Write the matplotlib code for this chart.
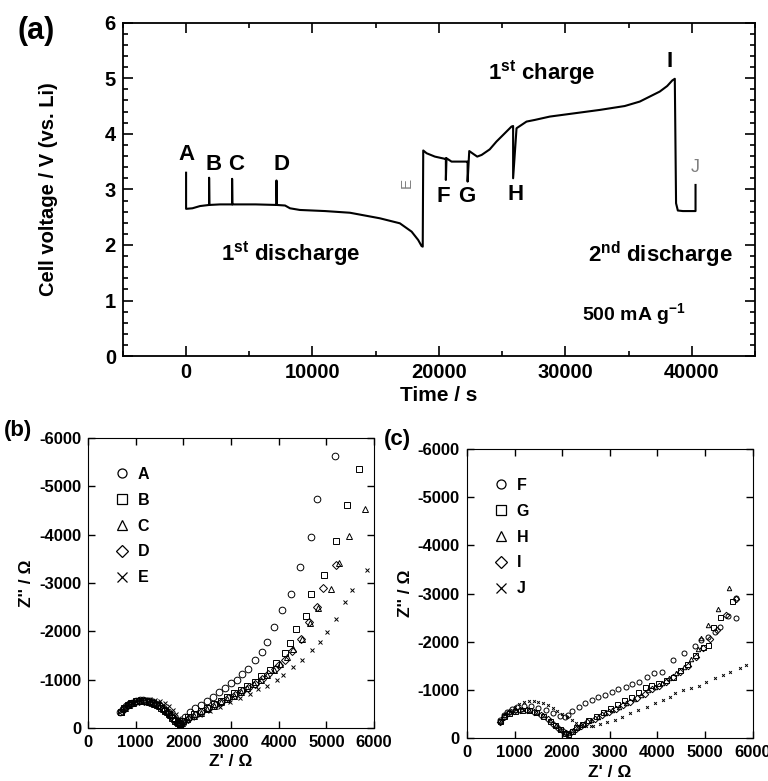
import numpy as np
import matplotlib.pyplot as plt
from matplotlib.ticker import MultipleLocator
from matplotlib.lines import Line2D

plt.rcParams['font.family'] = ['Liberation Sans', 'DejaVu Sans']
plt.rcParams['font.weight'] = 'bold'
plt.rcParams['axes.labelweight'] = 'bold'
plt.rcParams['mathtext.fontset'] = 'custom'
plt.rcParams['mathtext.rm'] = 'Liberation Sans:bold'
plt.rcParams['axes.unicode_minus'] = False

# (a) voltage profile, time in s, voltage in V
time_s = [0, 0, 500, 1100, 1820, 1820, 1840, 2690, 3640, 3640, 3660, 5500, 7150, 7150, 7170,
          7830, 8220, 9000, 11000, 12960, 15330, 16910, 17840, 18360, 18630, 18720, 18760,
          19030, 19680, 20470, 20550, 20550, 20600, 21000, 22190, 22270, 22270, 22400, 22710,
          23030, 23380, 24020, 24550, 25080, 25740, 25870, 25870, 26140, 26930, 27590, 28770,
          30750, 32730, 34700, 35890, 36680, 37470, 38060, 38460, 38660, 38760, 38900, 39300,
          40300, 40300]
voltage = [3.3, 2.65, 2.66, 2.7, 2.72, 3.21, 2.72, 2.73, 2.73, 3.19, 2.73, 2.73, 2.72, 3.16, 2.72,
           2.71, 2.66, 2.63, 2.61, 2.58, 2.48, 2.39, 2.24, 2.09, 1.98, 1.97, 3.7,
           3.65, 3.59, 3.55, 3.56, 3.17, 3.56, 3.5, 3.5, 3.5, 3.14, 3.69, 3.64,
           3.59, 3.62, 3.72, 3.86, 3.98, 4.13, 4.14, 3.2, 4.1, 4.22, 4.25, 4.31,
           4.37, 4.43, 4.5, 4.58, 4.67, 4.76, 4.86, 4.96, 4.99, 2.75, 2.62, 2.61,
           2.61, 3.08]
point_labels = ['A', 'B', 'C', 'D', 'F', 'G', 'H', 'I']
point_t = [0, 2200, 3950, 7550, 20340, 22240, 26090, 38260]
point_v = [3.62, 3.45, 3.45, 3.45, 2.87, 2.87, 2.9, 5.3]

# (b) impedance, Z' and -Z'' in ohm
A_re = [678, 740, 803, 866, 929, 1005, 1084, 1150, 1223, 1295, 1364, 1435, 1504, 1565, 1622, 1680,
        1734, 1785, 1831, 1880, 1923, 1975, 2028, 2133, 2251, 2377, 2496, 2622, 2748, 2880, 3006,
        3132, 3231, 3363, 3503, 3644, 3755, 3908, 4063, 4259, 4454, 4678, 4798, 5181]
A_im = [337, 400, 455, 495, 523, 555, 579, 575, 565, 548, 523, 492, 455, 415, 372, 322,
        269, 215, 165, 125, 97, 150, 234, 337, 408, 476, 559, 648, 738, 821, 925,
        993, 1117, 1227, 1401, 1573, 1773, 2096, 2435, 2779, 3325, 3946, 4732, 5634]
B_re = [690, 760, 830, 910, 1000, 1090, 1180, 1270, 1360, 1450, 1540, 1620, 1700, 1770, 1830, 1880,
        1930, 2000, 2098, 2224, 2364, 2503, 2643, 2784, 2922, 3063, 3203, 3342, 3497, 3636, 3812,
        3950, 4126, 4244, 4370, 4573, 4678, 4951, 5203, 5427, 5679]
B_im = [330, 410, 470, 515, 548, 565, 562, 545, 515, 470, 415, 350, 280, 200, 140, 100,
        80, 150, 221, 283, 352, 420, 490, 559, 635, 718, 786, 869, 958, 1076, 1200,
        1351, 1545, 1759, 2042, 2324, 2779, 3166, 3876, 4608, 5359]
C_re = [700, 770, 850, 940, 1030, 1120, 1210, 1300, 1390, 1480, 1570, 1650, 1730, 1800, 1860, 1920,
        1980, 2080, 2220, 2360, 2500, 2640, 2780, 2920, 3060, 3200, 3340, 3480, 3620, 3760, 3900,
        4030, 4168, 4307, 4489, 4657, 4825, 5091, 5259, 5481, 5811]
C_im = [340, 420, 480, 525, 555, 565, 558, 538, 505, 460, 400, 335, 260, 185, 125, 90,
        110, 180, 250, 320, 390, 460, 530, 600, 670, 740, 820, 900, 990, 1090, 1200,
        1330, 1475, 1628, 1835, 2179, 2477, 2882, 3420, 3973, 4525]
D_re = [710, 790, 880, 980, 1080, 1180, 1280, 1380, 1480, 1580, 1670, 1750, 1820, 1880, 1940, 2000,
        2100, 2240, 2380, 2520, 2660, 2800, 2940, 3080, 3220, 3360, 3500, 3640, 3780, 3920, 4000,
        4133, 4273, 4462, 4643, 4798, 4936, 5203]
D_im = [345, 430, 490, 535, 560, 560, 545, 512, 465, 400, 320, 240, 165, 110, 85, 120,
        190, 265, 335, 405, 475, 545, 615, 685, 755, 835, 915, 1005, 1110, 1230, 1300,
        1407, 1599, 1841, 2187, 2510, 2903, 3373]
E_re = [720, 800, 900, 1000, 1100, 1200, 1300, 1400, 1500, 1608, 1700, 1780, 1850, 1910, 1960, 2010,
        2100, 2175, 2350, 2559, 2769, 2979, 3189, 3398, 3573, 3748, 3958, 4098, 4307, 4482, 4692,
        4867, 5021, 5203, 5391, 5531, 5846]
E_im = [360, 450, 520, 565, 590, 600, 595, 580, 555, 520, 460, 380, 290, 200, 130, 110,
        160, 200, 269, 358, 441, 544, 627, 703, 801, 875, 993, 1097, 1268, 1407, 1614,
        1773, 1980, 2249, 2614, 2855, 3269]

# (c) impedance after charge steps
F_re = [699, 769, 839, 944, 1050, 1200, 1350, 1500, 1650, 1800, 1950, 2050, 2120, 2203, 2343, 2482,
        2622, 2762, 2901, 3042, 3182, 3336, 3476, 3622, 3776, 3930, 4091, 4328, 4559, 4783, 4909,
        5062, 5203, 5322, 5482, 5643, 5658]
F_im = [374, 477, 546, 602, 640, 660, 655, 625, 575, 520, 460, 430, 470, 560, 640, 720,
        789, 845, 893, 962, 1017, 1065, 1121, 1169, 1260, 1343, 1377, 1619, 1758, 1910, 2034,
        2103, 2207, 2298, 2533, 2498, 2900]
G_re = [700, 780, 880, 1000, 1150, 1300, 1450, 1600, 1750, 1850, 1950, 2050, 2120, 2200, 2300, 2420,
        2550, 2700, 2850, 3000, 3150, 3300, 3450, 3600, 3734, 3874, 4013, 4175, 4328, 4468, 4629,
        4783, 4958, 5062, 5167, 5307, 5573]
G_im = [350, 450, 520, 570, 590, 580, 540, 460, 360, 270, 180, 110, 90, 140, 220, 300,
        380, 460, 540, 620, 700, 780, 860, 960, 1052, 1100, 1148, 1204, 1273, 1412, 1530,
        1723, 1896, 1931, 2311, 2518, 2851]
H_re = [710, 800, 900, 1020, 1160, 1300, 1450, 1600, 1750, 1860, 1960, 2060, 2140, 2230, 2340, 2460,
        2600, 2750, 2900, 3050, 3200, 3350, 3500, 3650, 3800, 3950, 4100, 4250, 4400, 4560, 4700,
        4850, 4923, 5062, 5273, 5503]
H_im = [360, 470, 540, 585, 600, 590, 550, 470, 370, 270, 180, 120, 100, 160, 230, 300,
        370, 440, 510, 580, 650, 730, 810, 900, 990, 1070, 1150, 1240, 1350, 1480, 1650,
        1850, 2070, 2346, 2672, 3108]
I_re = [690, 770, 860, 980, 1120, 1260, 1400, 1550, 1700, 1810, 1910, 2010, 2090, 2180, 2280, 2400,
        2530, 2680, 2830, 2980, 3130, 3280, 3430, 3580, 3730, 3880, 4030, 4180, 4330, 4480, 4640,
        4800, 4960, 5100, 5250, 5440, 5650]
I_im = [340, 440, 510, 560, 585, 580, 550, 480, 390, 300, 210, 140, 100, 130, 190, 260,
        330, 400, 470, 540, 610, 680, 750, 830, 920, 1010, 1090, 1170, 1260, 1370, 1500,
        1690, 1860, 2050, 2250, 2560, 2880]
J_re = [720, 800, 900, 1000, 1100, 1200, 1300, 1400, 1500, 1600, 1700, 1800, 1900, 2000, 2100, 2200,
        2300, 2400, 2500, 2600, 2650, 2800, 2950, 3100, 3250, 3420, 3600, 3780, 3950, 4120, 4260,
        4363, 4538, 4700, 4874, 5028, 5203, 5377, 5517, 5727, 5867]
J_im = [380, 490, 580, 650, 700, 740, 760, 765, 750, 720, 680, 620, 560, 500, 440, 380,
        320, 280, 250, 240, 250, 290, 330, 380, 430, 519, 580, 650, 720, 796, 860,
        940, 996, 1030, 1080, 1169, 1239, 1308, 1377, 1447, 1515]

fig = plt.figure(figsize=(7.68, 7.81), dpi=100)

# ---- (a) ----
ax = fig.add_axes([0.160, 0.544, 0.823, 0.427])
ax.plot(time_s, voltage, color='black', lw=1.5)
ax.set_xlim(-5000, 45000)
ax.set_ylim(0, 6)
ax.xaxis.set_major_locator(MultipleLocator(10000))
ax.xaxis.set_minor_locator(MultipleLocator(5000))
ax.yaxis.set_major_locator(MultipleLocator(1))
ax.yaxis.set_minor_locator(MultipleLocator(0.2))
ax.tick_params(which='both', direction='in', top=True, right=True, labelsize=14.5, width=1.2)
ax.tick_params(which='major', length=7, pad=5)
ax.tick_params(which='minor', length=3.5)
for s in ax.spines.values():
    s.set_linewidth(1.3)
ax.set_xlabel('Time / s', fontsize=15)
ax.set_ylabel('Cell voltage / V (vs. Li)', fontsize=14.5)
ax.xaxis.set_label_coords(0.5, -0.09)
ax.yaxis.set_label_coords(-0.103, 0.5)
for lab, t, v in zip(point_labels, point_t, point_v):
    ax.text(t, v, lab, fontsize=16, ha='center', va='center')
ax.text(17440, 3.11, 'E', fontsize=11, color='0.5', fontweight='normal', rotation=90,
        ha='center', va='center')
ax.text(40300, 3.4, 'J', fontsize=13, color='0.5', fontweight='normal', ha='center', va='center')
ax.text(8300, 1.85, '1$^{\\mathrm{st}}$ discharge', fontsize=16, ha='center', va='center')
ax.text(28150, 5.1, '1$^{\\mathrm{st}}$ charge', fontsize=16, ha='center', va='center')
ax.text(37500, 1.82, '2$^{\\mathrm{nd}}$ discharge', fontsize=16, ha='center', va='center')
ax.text(35400, 0.74, '500 mA g$^{\\mathrm{-1}}$', fontsize=14, ha='center', va='center')
fig.text(0.047, 0.960, '(a)', fontsize=22, ha='center', va='center')

markers = ['o', 's', '^', 'D', 'x']


def eis_axes(rect, series, names, sizes):
    a = fig.add_axes(rect)
    for (re, im), mk, sz in zip(series, markers, sizes):
        a.plot(re, -np.array(im), ls='none', marker=mk, ms=sz, mfc='none', mec='black', mew=0.7)
    a.set_xlim(0, 6000)
    a.set_ylim(0, -6000)
    a.xaxis.set_major_locator(MultipleLocator(1000))
    a.yaxis.set_major_locator(MultipleLocator(1000))
    a.tick_params(direction='in', top=True, right=True, labelsize=12, length=5, width=1, pad=5)
    a.set_xlabel("Z' / \u03a9", fontsize=12.5)
    a.set_ylabel("Z'' / \u03a9", fontsize=12.5)
    handles = [Line2D([], [], ls='none', marker=mk, ms=6.5 if mk != 'x' else 7, mfc='none',
                      mec='black', mew=0.9) for mk in markers]
    a.legend(handles, names, loc='upper left', bbox_to_anchor=(0.04, 0.95), frameon=False,
             fontsize=11.5, handletextpad=0.5, labelspacing=0.68, handlelength=1.0)
    return a


axb = eis_axes([0.1146, 0.0679, 0.3724, 0.3713],
               [(A_re, A_im), (B_re, B_im), (C_re, C_im), (D_re, D_im), (E_re, E_im)],
               ['A', 'B', 'C', 'D', 'E'], [4.8, 4.8, 4.0, 4.2, 2.4])
axb.xaxis.set_label_coords(0.5, -0.09)
axb.yaxis.set_label_coords(-0.19, 0.5)
fig.text(0.023, 0.449, '(b)', fontsize=16, ha='center', va='center')

axc = eis_axes([0.608, 0.055, 0.372, 0.370],
               [(F_re, F_im), (G_re, G_im), (H_re, H_im), (I_re, I_im), (J_re, J_im)],
               ['F', 'G', 'H', 'I', 'J'], [3.6, 3.6, 3.2, 3.3, 2.0])
axc.xaxis.set_label_coords(0.5, -0.095)
axc.yaxis.set_label_coords(-0.19, 0.5)
fig.text(0.518, 0.437, '(c)', fontsize=16, ha='center', va='center')

fig.savefig('out.png', dpi=100)
